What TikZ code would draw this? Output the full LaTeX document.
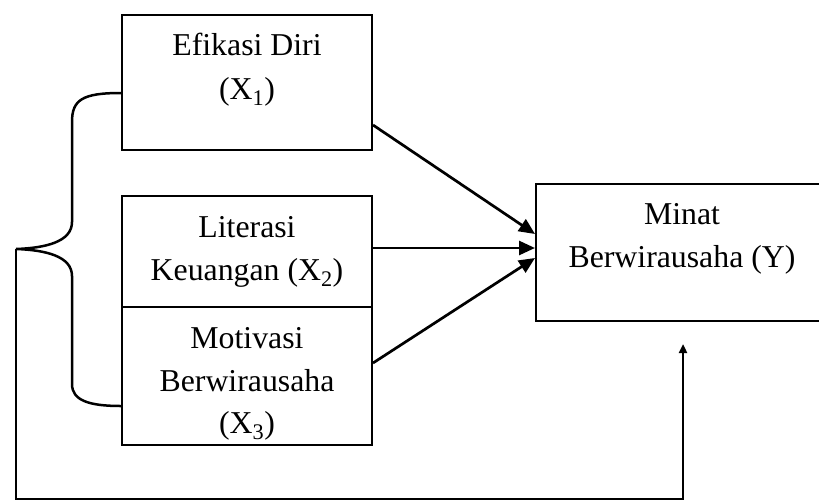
\documentclass[tikz,border=0pt]{standalone}
\usepackage{fontspec}
\setmainfont{Liberation Serif}
\usetikzlibrary{arrows.meta,calc}
\begin{document}
\begin{tikzpicture}[x=1pt,y=-1pt,
  box/.style={draw,line width=2pt,minimum width=250pt,inner sep=0pt},
  lbl/.style={anchor=base,inner sep=0pt,font=\fontsize{31.8}{40}\selectfont},
  conn/.style={line width=2.7pt},
  arr/.style={conn,-{Triangle[length=16pt,width=14pt]}},
  fb/.style={line width=2.8pt,-{Triangle[length=9pt,width=8pt]}}]
\useasboundingbox (0,0) rectangle (819,501);
% boxes
\node[box,minimum height=135pt] (e) at (247,82.5) {};
\node[box,minimum height=111pt] (l) at (247,251.5) {};
\node[box,minimum height=138pt] (mo) at (247,376) {};
\node[box,minimum width=292pt,minimum height=137pt] (y) at (682,252.5) {};
% texts
\node[lbl] (t1) at (247,55) {Efikasi Diri};
\node[lbl] (t2) at (247,99) {(X\textsubscript{1})};
\node[lbl] (t3) at (247,237) {Literasi};
\node[lbl] (t4) at (247,280) {Keuangan (X\textsubscript{2})};
\node[lbl] (t5) at (247,348) {Motivasi};
\node[lbl] (t6) at (247,391) {Berwirausaha};
\node[lbl] (t7) at (247,433) {(X\textsubscript{3})};
\node[lbl] (t8) at (682,224) {Minat};
\node[lbl] (t9) at (682,267) {Berwirausaha (Y)};
% arrows
\draw[arr] ([yshift=-42.5pt]e.east) -- ([yshift=18.5pt]y.west);
\draw[arr] ([yshift=3.5pt]l.east) -- ([yshift=4.5pt]y.west);
\draw[arr] ([yshift=13pt]mo.east) -- ([yshift=-5.5pt]y.west);
% brace
\coordinate (tip) at (16,249);
\draw[conn,line width=2.5pt] ([yshift=-10.5pt]e.west) .. controls (82,93) and (72,100) .. (72,122)
   -- (72,222) .. controls (72,242) and (45,248) .. (tip)
   .. controls (45,250) and (72,256) .. (72,276)
   -- (72,384) .. controls (72,400) and (88,406) .. ([yshift=-30pt]mo.west);
% feedback line
\coordinate (c1) at (16,499);
\draw[fb] (tip) -- (c1) -| ([xshift=1pt]y.south) [shorten >=22pt];
\end{tikzpicture}
\end{document}
